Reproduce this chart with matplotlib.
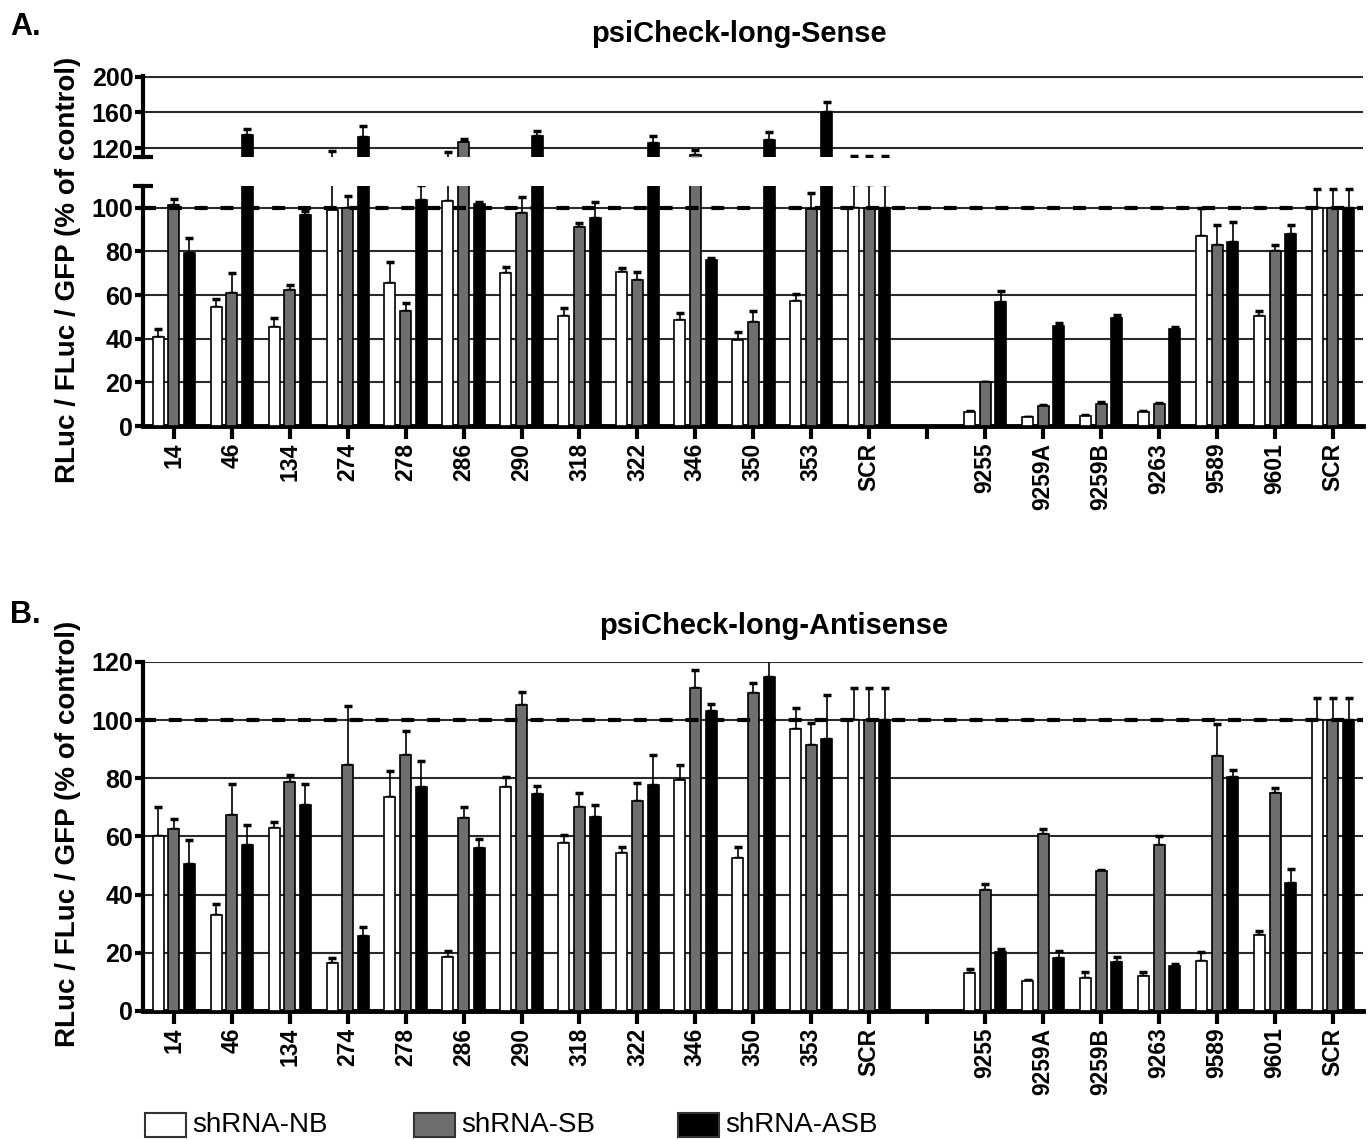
import numpy as np
import matplotlib.pyplot as plt
import matplotlib.patches as mpatches

FONT = ['Liberation Sans', 'DejaVu Sans']
plt.rcParams['font.family'] = FONT

# ---- data -------------------------------------------------------------
labels_left = ['14', '46', '134', '274', '278', '286', '290', '318', '322',
               '346', '350', '353', 'SCR']
labels_right = ['9255', '9259A', '9259B', '9263', '9589', '9601', 'SCR']
series = ['shRNA-NB', 'shRNA-SB', 'shRNA-ASB']

# psiCheck-long-Sense
nb_a = [41, 54.5, 45.5, 99, 65.5, 103, 70, 50.5, 70.5, 48.5, 39.5, 57.5, 100,
        6.5, 4, 4.5, 6.5, 87, 50.5, 100]
nb_a_err = [3.5, 3.5, 4, 18, 9.5, 12.5, 3, 3.5, 2, 3.5, 3.5, 3, 11,
            0.5, 0.3, 0.4, 0.5, 13, 2, 8.5]
sb_a = [101.5, 61, 62.5, 100, 52.5, 126.5, 97.5, 91, 67, 112, 47.5, 99.5, 100,
        20, 9, 10, 10, 83, 80, 100]
sb_a_err = [2.5, 9, 2, 5.5, 4, 3.5, 7.5, 2, 3.5, 6, 5, 7.5, 11,
            0.3, 0.5, 1, 0.5, 9, 3, 8.5]
asb_a = [79.5, 134.5, 96.5, 132, 103.5, 102, 133, 95.5, 125.5, 76, 128.5, 160, 100,
         57, 46, 49.5, 44.5, 84.5, 88, 100]
asb_a_err = [6.5, 7, 2, 13, 7, 0.5, 6.5, 7, 8.5, 1, 9, 12, 11,
             5, 1, 1.5, 1, 9, 4, 8.5]

# psiCheck-long-Antisense
nb_b = [60, 33, 62.8, 16.6, 73.7, 18.5, 77.1, 57.7, 54.2, 79.4, 52.7, 96.8, 100,
        13, 10.3, 11.2, 12, 17.2, 26, 100]
nb_b_err = [10.3, 3.8, 2.3, 1.5, 8.7, 2.1, 3.5, 2.7, 2.3, 5.2, 3.6, 7.3, 11,
            1.4, 0.3, 2.2, 1.4, 3, 1.5, 7.7]
sb_b = [62.6, 67.4, 78.9, 84.5, 88, 66.5, 105.1, 70.3, 72.3, 110.9, 109.2, 91.3, 100,
        41.6, 60.9, 48, 57, 87.8, 74.8, 100]
sb_b_err = [3.5, 10.6, 2.1, 20.5, 8.2, 3.8, 4.7, 4.8, 6.2, 6.3, 3.7, 7.8, 11,
            2, 1.7, 0.3, 3, 10.9, 2, 7.7]
asb_b = [50.5, 57.1, 70.9, 25.8, 77.1, 55.9, 74.6, 66.6, 77.6, 103.2, 115, 93.6, 100,
         20.2, 18.3, 17, 15.5, 80.6, 43.9, 100]
asb_b_err = [8.3, 6.7, 7.1, 3.2, 9, 3.4, 2.9, 4.2, 10.4, 2.2, 6, 15.1, 11,
             1.2, 2.3, 1.6, 0.5, 2.3, 4.9, 7.7]

# ---- layout -------------------------------------------------------------
x = np.array(list(range(len(labels_left))) +
             list(range(len(labels_left) + 1, len(labels_left) + 1 + len(labels_right))))
tick_pos = np.arange(len(labels_left) + len(labels_right) + 1)
tick_lab = labels_left + [''] + labels_right

colors = ['white', '#6e6e6e', 'black']
offsets = [-0.27, 0.0, 0.27]
bw = 0.19

W_PX, H_PX = 1369, 1140
fig = plt.figure(figsize=(W_PX / 100, H_PX / 100), dpi=100)
L, W = 0.1045, 0.8912
axA_top = fig.add_axes([L, 0.8623, W, 0.0711])
axA = fig.add_axes([L, 0.6263, W, 0.2105])
axB = fig.add_axes([L, 0.1132, W, 0.3061])


def draw(ax, data, lo=None):
    for (vals, errs), c, off in zip(data, colors, offsets):
        vals = np.array(vals, dtype=float)
        errs = np.array(errs, dtype=float)
        ax.bar(x + off, vals, width=bw, color=c, edgecolor='black',
               linewidth=1.2, zorder=3)
        keep = np.ones(len(vals), bool) if lo is None else (vals + errs > lo + 0.5)
        ax.errorbar((x + off)[keep], vals[keep],
                    yerr=[np.zeros(keep.sum()), errs[keep]], fmt='none',
                    ecolor='black', elinewidth=1.2, capsize=3, capthick=2.5,
                    zorder=2.9)
    ax.set_xlim(-0.53, tick_pos[-1] + 0.52)
    ax.set_axisbelow(True)
    ax.yaxis.grid(True, color='#2a2a2a', linewidth=1.5)
    for s in ['top', 'right']:
        ax.spines[s].set_visible(False)
    ax.spines['left'].set_linewidth(3)
    ax.spines['bottom'].set_linewidth(3.5)
    ax.tick_params(axis='y', length=6, width=3, labelsize=18, pad=1)
    for t in ax.get_yticklabels():
        t.set_fontweight('bold')


def xaxis(ax):
    ax.set_xticks(tick_pos)
    ax.set_xticklabels(tick_lab, rotation=90, fontsize=16.5, fontweight='bold')
    ax.tick_params(axis='x', length=9, width=3, pad=3)


def ref_line(ax):
    ax.axhline(100, color='black', linewidth=3, linestyle=(0, (3.1, 3.1)),
               zorder=4)


data_a = [(nb_a, nb_a_err), (sb_a, sb_a_err), (asb_a, asb_a_err)]
data_b = [(nb_b, nb_b_err), (sb_b, sb_b_err), (asb_b, asb_b_err)]

# panel A: broken axis
draw(axA_top, data_a, lo=110)
axA_top.set_ylim(110, 201)
axA_top.set_yticks([120, 160, 200])
axA_top.spines['bottom'].set_visible(False)
axA_top.set_xticks([])
axA_top.plot([0], [0], marker='_', markersize=14, mew=3, color='black',
             transform=axA_top.transAxes, clip_on=False)

draw(axA, data_a)
axA.set_ylim(0, 110)
axA.set_yticks(range(0, 101, 20))
axA.plot([0], [1], marker='_', markersize=14, mew=3, color='black',
         transform=axA.transAxes, clip_on=False)
ref_line(axA)
xaxis(axA)

# panel B
draw(axB, data_b)
axB.set_ylim(0, 120)
axB.set_yticks(range(0, 121, 20))
ref_line(axB)
xaxis(axB)

# ---- text -------------------------------------------------------------
fig.text(0.540, 1 - 42 / H_PX, 'psiCheck-long-Sense', ha='center', va='baseline',
         fontsize=21, fontweight='bold')
fig.text(0.5654, 1 - 634 / H_PX, 'psiCheck-long-Antisense', ha='center',
         va='baseline', fontsize=21, fontweight='bold')
fig.text(10 / W_PX, 1 - 35 / H_PX, 'A.', fontsize=22, fontweight='bold',
         va='baseline')
fig.text(10 / W_PX, 1 - 623 / H_PX, 'B.', fontsize=22, fontweight='bold',
         va='baseline')
ylab = 'RLuc / FLuc / GFP (% of control)'
fig.text(68.5 / W_PX, 1 - 270 / H_PX, ylab, rotation=90, ha='center',
         va='center', fontsize=20, fontweight='bold')
fig.text(68.5 / W_PX, 1 - 834 / H_PX, ylab, rotation=90, ha='center',
         va='center', fontsize=20, fontweight='bold')

# legend, laid out as in the figure
box_x = [145, 414, 678]
for bx, c, name in zip(box_x, colors, series):
    fig.add_artist(mpatches.Rectangle((bx / W_PX, 1 - 1137 / H_PX), 41 / W_PX,
                                      24 / H_PX, transform=fig.transFigure,
                                      facecolor=c, edgecolor='#333333',
                                      linewidth=1.5))
    fig.text((bx + 47) / W_PX, 1 - 1125 / H_PX, name, va='center', ha='left',
             fontsize=20)

fig.savefig('out.png', dpi=100)
